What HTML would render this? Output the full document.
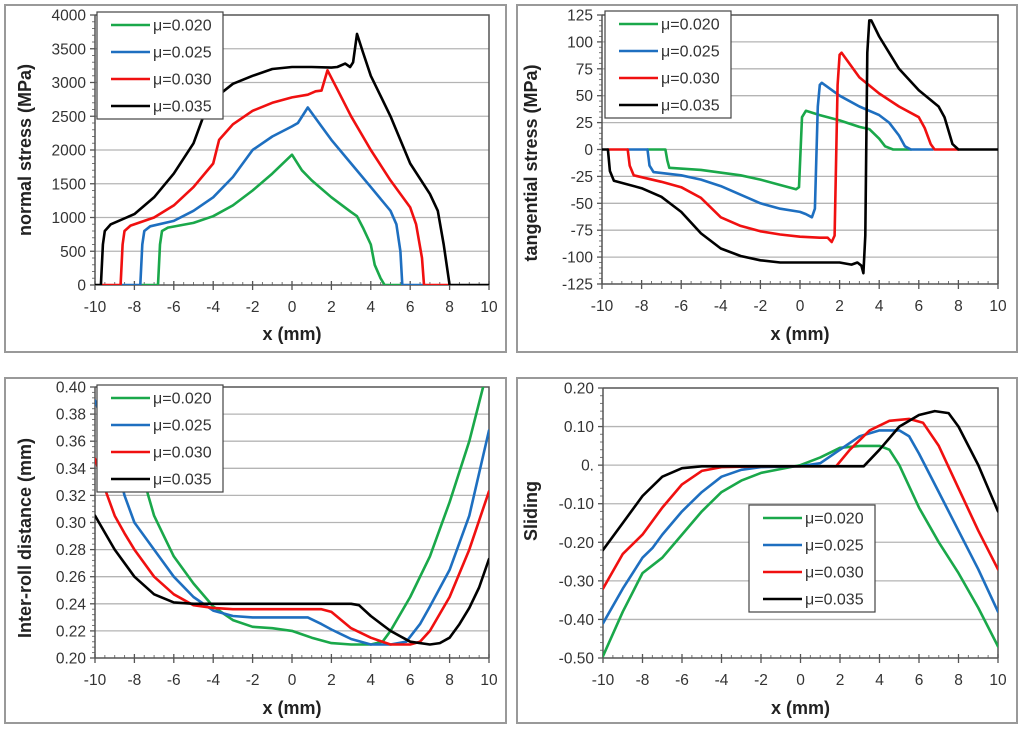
<!DOCTYPE html>
<html><head><meta charset="utf-8"><style>
html,body{margin:0;padding:0;background:#fff;}
svg{display:block;font-family:"Liberation Sans",sans-serif;}
</style></head><body>
<svg id="fig" width="1024" height="730" viewBox="0 0 1024 730"></svg>
<script>
const legendLabels = ["μ=0.020","μ=0.025","μ=0.030","μ=0.035"];
const seriesColors = ["#1aa84a","#1e6fc0","#f01010","#000000"];
const xTicks = [-10,-8,-6,-4,-2,0,2,4,6,8,10];

const normalTicks = [0,500,1000,1500,2000,2500,3000,3500,4000];
const normalGreen = [[-7.7,0],[-6.8,0],[-6.7,600],[-6.6,800],[-6.3,850],[-5,920],[-4,1020],[-3,1180],[-2,1400],[-1,1650],[0,1930],[0.5,1700],[1,1550],[2,1300],[3,1080],[3.3,1020],[3.6,850],[4,600],[4.2,300],[4.5,100],[4.7,0],[5.6,0]];
const normalBlue = [[-8.7,0],[-7.7,0],[-7.6,600],[-7.5,800],[-7.2,870],[-6,950],[-5,1100],[-4,1300],[-3,1600],[-2,2000],[-1,2200],[0,2350],[0.3,2400],[0.8,2630],[1.5,2350],[2,2150],[3,1800],[4,1450],[5,1100],[5.3,900],[5.5,500],[5.6,0],[6.7,0]];
const normalRed = [[-9.7,0],[-8.7,0],[-8.6,600],[-8.5,800],[-8.2,880],[-7,1000],[-6,1180],[-5,1450],[-4,1800],[-3.7,2150],[-3,2380],[-2,2580],[-1,2700],[0,2780],[0.8,2820],[1.2,2870],[1.5,2880],[1.8,3180],[2.3,2900],[3,2500],[4,2000],[5,1550],[6,1150],[6.3,900],[6.6,400],[6.7,0],[8,0]];
const normalBlack = [[-10,0],[-9.7,0],[-9.6,600],[-9.5,800],[-9.2,900],[-8,1050],[-7,1300],[-6,1650],[-5,2100],[-4.5,2500],[-4,2750],[-3,2980],[-2,3100],[-1,3200],[0,3230],[1,3230],[2,3220],[2.3,3230],[2.7,3280],[2.95,3230],[3.1,3300],[3.3,3720],[3.6,3450],[4,3100],[5,2500],[6,1800],[7,1350],[7.4,1100],[7.7,600],[8,0],[10,0]];

const tangTicks = [-125,-100,-75,-50,-25,0,25,50,75,100,125];
const tangGreen = [[-7.7,0],[-6.8,0],[-6.7,-10],[-6.6,-17],[-5,-19],[-3,-24],[-2,-28],[-1,-33],[-0.2,-37],[-0.05,-35],[0.1,30],[0.3,36],[1,32],[2,27],[3,21],[3.5,19],[4,10],[4.3,3],[4.7,0],[5.6,0]];
const tangBlue = [[-8.7,0],[-7.7,0],[-7.6,-15],[-7.4,-21],[-6,-24],[-5,-28],[-4,-34],[-3,-42],[-2,-50],[-1,-55],[0,-58],[0.3,-60],[0.6,-63],[0.75,-55],[0.9,40],[1.0,60],[1.1,62],[2,50],[3,40],[4,32],[4.5,25],[5,13],[5.3,3],[5.6,0],[6.7,0]];
const tangRed = [[-9.7,0],[-8.7,0],[-8.6,-15],[-8.4,-24],[-7,-30],[-6,-35],[-5,-45],[-4,-63],[-3,-71],[-2,-76],[-1,-79],[0,-81],[1,-82],[1.4,-82],[1.6,-86],[1.75,-80],[1.9,60],[2.0,88],[2.1,90],[3,67],[4,52],[5,40],[6,30],[6.3,20],[6.6,5],[6.8,0],[8,0]];
const tangBlack = [[-10,0],[-9.7,0],[-9.6,-20],[-9.4,-29],[-8,-36],[-7,-44],[-6,-58],[-5,-78],[-4,-92],[-3,-99],[-2,-103],[-1,-105],[0,-105],[1,-105],[2,-105],[2.6,-107],[2.9,-105],[3.1,-108],[3.2,-115],[3.3,-80],[3.4,90],[3.5,120],[3.6,120],[4,105],[5,75],[6,55],[7,40],[7.3,30],[7.7,5],[8,0],[10,0]];

const gapTicks = [0.20,0.22,0.24,0.26,0.28,0.30,0.32,0.34,0.36,0.38,0.40];
const gapGreen = [[-10,0.46],[-8,0.36],[-7.3,0.32],[-7,0.305],[-6.5,0.29],[-6,0.275],[-5,0.255],[-4,0.238],[-3,0.228],[-2,0.223],[-1,0.222],[0,0.220],[1,0.215],[2,0.211],[3,0.210],[4,0.210],[4.6,0.212],[5,0.220],[6,0.245],[7,0.275],[8,0.315],[9,0.36],[9.7,0.40],[10,0.42]];
const gapBlue = [[-10,0.39],[-9,0.35],[-8.5,0.32],[-8,0.30],[-7,0.28],[-6,0.26],[-5,0.245],[-4,0.235],[-3,0.231],[-2,0.230],[0,0.230],[0.8,0.230],[1.5,0.225],[2,0.221],[3,0.214],[4,0.210],[5,0.210],[5.8,0.212],[6.5,0.225],[7,0.238],[8,0.265],[9,0.305],[10,0.368]];
const gapRed = [[-10,0.347],[-9.5,0.325],[-9,0.305],[-8.5,0.292],[-8,0.28],[-7,0.26],[-6,0.247],[-5,0.239],[-4,0.237],[-3,0.236],[0,0.236],[1.5,0.236],[2,0.234],[3,0.222],[4,0.215],[5,0.210],[6,0.210],[6.5,0.212],[7,0.220],[8,0.245],[9,0.28],[10,0.323]];
const gapBlack = [[-10,0.305],[-9,0.28],[-8,0.26],[-7,0.247],[-6,0.241],[-5,0.240],[0,0.240],[3,0.240],[3.4,0.239],[4,0.231],[5,0.220],[6,0.212],[7,0.210],[7.5,0.211],[8,0.215],[8.5,0.225],[9,0.237],[9.5,0.252],[10,0.273]];

const slideTicks = [-0.5,-0.4,-0.3,-0.2,-0.1,0,0.1,0.2];
const slideTickLabels = ["-0.50","-0.40","-0.30","-0.20","-0.10","0.","0.10","0.20"];
const slideGreen = [[-10,-0.495],[-9,-0.38],[-8,-0.28],[-7,-0.24],[-6,-0.18],[-5,-0.12],[-4,-0.07],[-3,-0.04],[-2,-0.02],[-1,-0.01],[0,0],[1,0.02],[2,0.045],[3,0.05],[4,0.05],[4.5,0.04],[5,0.0],[6,-0.11],[7,-0.20],[8,-0.28],[9,-0.37],[10,-0.47]];
const slideBlue = [[-10,-0.41],[-9,-0.32],[-8,-0.24],[-7.5,-0.215],[-7,-0.18],[-6,-0.12],[-5,-0.07],[-4,-0.03],[-3,-0.012],[-2,-0.005],[0,-0.003],[1,0.005],[2,0.04],[3,0.075],[4,0.09],[5,0.09],[5.5,0.075],[6,0.03],[7,-0.07],[8,-0.17],[9,-0.27],[10,-0.38]];
const slideRed = [[-10,-0.32],[-9,-0.23],[-8,-0.18],[-7,-0.11],[-6,-0.05],[-5,-0.015],[-4,-0.005],[-2,-0.003],[1.8,-0.003],[2.5,0.04],[3.5,0.09],[4.5,0.115],[5.5,0.12],[6.2,0.11],[7,0.05],[8,-0.06],[9,-0.17],[10,-0.27]];
const slideBlack = [[-10,-0.22],[-9,-0.15],[-8,-0.08],[-7,-0.03],[-6,-0.008],[-5,-0.003],[3.2,-0.003],[4,0.04],[5,0.1],[6,0.13],[6.8,0.14],[7.5,0.135],[8,0.1],[9,0.0],[10,-0.12]];

const NS = "http://www.w3.org/2000/svg";
const fig = document.getElementById("fig");
function mk(tag, attrs, parent){
  const e = document.createElementNS(NS, tag);
  for (const k in attrs) e.setAttribute(k, attrs[k]);
  (parent||fig).appendChild(e);
  return e;
}

function panel(cfg){
  const g = mk("g", {});
  
  
  const fr = mk("rect", {x:cfg.frame[0], y:cfg.frame[1], width:cfg.frame[2], height:cfg.frame[3], fill:"#fff", stroke:"#999", "stroke-width":2}, g);
  
  
  const L=cfg.L, R=cfg.R, T=cfg.T, B=cfg.B;
  const ymin=cfg.yTicks[0], ymax=cfg.yTicks[cfg.yTicks.length-1];
  const sx = v => L + (v+10)/20*(R-L);
  const sy = v => B - (v-ymin)/(ymax-ymin)*(B-T);
  const cid = "clip-"+cfg.name;
  const cp = mk("clipPath", {id:cid}, g);
  mk("rect", {x:L, y:T, width:R-L, height:B-T}, cp);
  cfg.yTicks.forEach((t,i)=>{
    const y = sy(t);
    if (i>0 && i<cfg.yTicks.length-1){
      const gl = mk("line", {x1:L, x2:R, y1:y, y2:y, stroke:"#b4b4b4", "stroke-width":1.3}, g);
      
      
    }
    mk("line", {x1:L-5, x2:L, y1:y, y2:y, stroke:"#555", "stroke-width":1.3}, g);
    const tx = mk("text", {x:L-9, y:y+5.5, "text-anchor":"end", "font-size":15.5, fill:"#333"}, g);
    tx.textContent = cfg.yLabels ? cfg.yLabels[i] : cfg.fmt(t);
    
    
    if (i < cfg.yTicks.length-1){
      for (let k=1;k<5;k++){
        const yy = y - k*(y - sy(cfg.yTicks[i+1]))/5;
        mk("line", {x1:L-3, x2:L, y1:yy, y2:yy, stroke:"#777", "stroke-width":1}, g);
      }
    }
  });
  mk("polyline", {points:`${L},${T} ${R},${T} ${R},${B}`, fill:"none", stroke:"#555", "stroke-width":1.5}, g);
  xTicks.forEach((t,i)=>{
    const x = sx(t);
    mk("line", {x1:x, x2:x, y1:B-4, y2:B+5, stroke:"#555", "stroke-width":1.3}, g);
    const tx = mk("text", {x:x, y:B+27, "text-anchor":"middle", "font-size":15.5, fill:"#333"}, g);
    tx.textContent = String(t);
    
    
    if (i < xTicks.length-1){
      for (let k=1;k<4;k++){
        const xx = x + k*(sx(xTicks[i+1])-x)/4;
        mk("line", {x1:xx, x2:xx, y1:B-3, y2:B, stroke:"#777", "stroke-width":1}, g);
      }
    }
  });
  mk("line", {x1:L, x2:L, y1:T, y2:B, stroke:"#555", "stroke-width":1.5}, g);
  mk("line", {x1:L, x2:R, y1:B, y2:B, stroke:"#555", "stroke-width":1.5}, g);
  const sg = mk("g", {"clip-path":`url(#${cid})`}, g);
  cfg.series.forEach((s,i)=>{
    const pts = s.map(p=>sx(p[0]).toFixed(1)+","+sy(p[1]).toFixed(1)).join(" ");
    const pl = mk("polyline", {points:pts, fill:"none", stroke:seriesColors[i], "stroke-width":2.6, "stroke-linejoin":"round", "stroke-linecap":"round"}, sg);
    
    
  });
  const xt = mk("text", {x:(L+R)/2, y:cfg.xTitleY, "text-anchor":"middle", "font-size":18, "font-weight":"bold", fill:"#222"}, g);
  xt.textContent = "x (mm)";
  
  
  const yt = mk("text", {x:0, y:0, "text-anchor":"middle", "font-size":18, "font-weight":"bold", fill:"#222", transform:`translate(${cfg.yTitleX},${cfg.yTitleY}) rotate(-90)`}, g);
  yt.textContent = cfg.yTitle;
  
  
  const lg = mk("g", {}, g);
  
  
  const [lx, ly] = cfg.legend;
  mk("rect", {x:lx, y:ly, width:126, height:107, fill:"#fff", stroke:"#444", "stroke-width":1.2}, lg);
  legendLabels.forEach((lab,i)=>{
    const yy = ly + 13 + i*27;
    const en = mk("g", {}, lg);
    
    
    mk("line", {x1:lx+14, x2:lx+53, y1:yy, y2:yy, stroke:seriesColors[i], "stroke-width":2.6}, en);
    const t = mk("text", {x:lx+56, y:yy+5.5, "font-size":16, fill:"#333"}, en);
    t.textContent = lab;
  });
}

panel({name:"normal-stress-chart", frame:[5,5,501,347], L:95, R:489, T:15, B:285,
  yTicks:normalTicks, fmt:v=>String(v), series:[normalGreen,normalBlue,normalRed,normalBlack],
  xTitleY:340, yTitle:"normal stress (MPa)", yTitleX:31, yTitleY:150, legend:[97,12]});
panel({name:"tangential-stress-chart", frame:[517,5,500,347], L:602, R:998, T:15, B:284,
  yTicks:tangTicks, fmt:v=>String(v), series:[tangGreen,tangBlue,tangRed,tangBlack],
  xTitleY:340, yTitle:"tangential stress (MPa)", yTitleX:537, yTitleY:163, legend:[605,11]});
panel({name:"inter-roll-distance-chart", frame:[5,378,501,345], L:95, R:489, T:387, B:658,
  yTicks:gapTicks, fmt:v=>v.toFixed(2), series:[gapGreen,gapBlue,gapRed,gapBlack],
  xTitleY:714, yTitle:"Inter-roll distance (mm)", yTitleX:31, yTitleY:538, legend:[97,385]});
panel({name:"sliding-chart", frame:[517,378,500,345], L:603, R:998, T:388, B:658,
  yTicks:slideTicks, yLabels:slideTickLabels, fmt:v=>String(v), series:[slideGreen,slideBlue,slideRed,slideBlack],
  xTitleY:714, yTitle:"Sliding", yTitleX:537, yTitleY:511, legend:[749,505]});
</script>
</body></html>
